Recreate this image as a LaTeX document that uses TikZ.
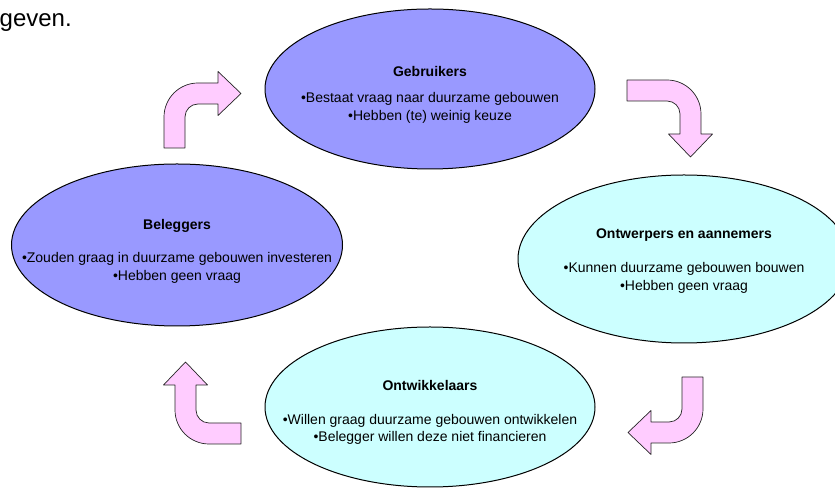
\documentclass[tikz,border=0pt]{standalone}
\usepackage{fontspec}
\setmainfont{Liberation Sans}
\usetikzlibrary{shapes.geometric}

\definecolor{lilac}{HTML}{9999FF}
\definecolor{paleaqua}{HTML}{CCFFFF}
\definecolor{arrowpink}{HTML}{FFCCFF}

\tikzset{
  group/.style={ellipse, draw=black, line width=1pt, inner sep=0pt, outer sep=0pt},
  lbl/.style={inner sep=0pt, anchor=base, font=\fontsize{14}{17.5}\selectfont},
  ttl/.style={lbl, font=\fontsize{14}{17.5}\selectfont\bfseries},
  turn/.style={draw=black!85, fill=arrowpink, line width=0.7pt, line join=round},
  % bent block arrow: straight shaft of length #1 going up, quarter bend,
  % straight part of length #2 going right, then the head
  pics/bent/.style 2 args={code={
    \draw[turn] (0,0) -- (0,#1)
      .. controls (0,#1+18.78) and (15.22,#1+34) .. (34,#1+34)
      -- (34+#2,#1+34) -- (34+#2,#1+45.5) -- (57+#2,#1+23.5)
      -- (34+#2,#1+1.5) -- (34+#2,#1+13) -- (34,#1+13)
      .. controls (26.82,#1+13) and (21,#1+7.18) .. (21,#1)
      -- (21,0) -- cycle;
  }}
}

\begin{document}
\begin{tikzpicture}[x=1pt,y=1pt]
  \useasboundingbox (0,0) rectangle (835,489);
  \clip (0,0) rectangle (835,489);

  % tail of the preceding sentence
  \node[anchor=base west, inner sep=0pt, font=\fontsize{24}{28}\selectfont] (tail) at (-0.5,462) {geven.};

  % the four parties
  \node[group, fill=lilac, minimum width=330pt, minimum height=160pt] (users) at (430,400) {};
  \node[group, fill=lilac, minimum width=331pt, minimum height=162pt] (investors) at (177,244) {};
  \node[group, fill=paleaqua, minimum width=332pt, minimum height=168pt] (builders) at (684,230) {};
  \node[group, fill=paleaqua, minimum width=330pt, minimum height=160pt] (developers) at (430,82) {};

  % texts
  \node[ttl] (users-t) at (430,412) {Gebruikers};
  \node[lbl] (users-a) at (430,386) {•Bestaat vraag naar duurzame gebouwen};
  \node[lbl] (users-b) at (430,368) {•Hebben (te) weinig keuze};

  \node[ttl] (investors-t) at (177,259) {Beleggers};
  \node[lbl] (investors-a) at (177,226) {•Zouden graag in duurzame gebouwen investeren};
  \node[lbl] (investors-b) at (177,208) {•Hebben geen vraag};

  \node[ttl] (builders-t) at (684,250) {Ontwerpers en aannemers};
  \node[lbl] (builders-a) at (684,216) {•Kunnen duurzame gebouwen bouwen};
  \node[lbl] (builders-b) at (684,198) {•Hebben geen vraag};

  \node[ttl] (developers-t) at (430,98) {Ontwikkelaars};
  \node[lbl] (developers-a) at (430,64) {•Willen graag duurzame gebouwen ontwikkelen};
  \node[lbl] (developers-b) at (430,47) {•Belegger willen deze niet financieren};

  % cycle arrows
  \pic at (164,341) {bent={31}{20}};
  \pic[rotate=-90] at (627,409) {bent={40}{20}};
  \pic[rotate=180] at (703,112) {bent={32}{18}};
  \pic[rotate=90] at (241,45) {bent={32}{25}};
\end{tikzpicture}
\end{document}
